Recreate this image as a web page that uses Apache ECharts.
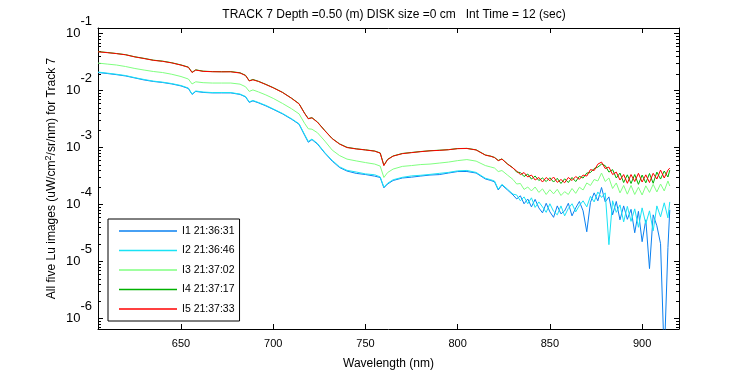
<!DOCTYPE html>
<html>
<head>
<meta charset="utf-8">
<script src="https://cdn.jsdelivr.net/npm/echarts@6/dist/echarts.min.js"></script>
<style>
  html, body { margin: 0; padding: 0; background: #fff; }
  #chart { width: 750px; height: 375px; }
</style>
</head>
<body>
<div id="chart"></div>
<script>
// wavelength grid (nm)
var wl = [605,610,615,620,625,630,635,640,645,650,654,656,658,662,667,672,677,682,685,687,689,692,696,700,705,710,714,717,719,721,724,728,732,736,740,745,750,755,758,760,762,765,770,775,780,785,790,795,800,805,810,815,818,820,822,824,827,830,
  832,834,836,838,840,842,844,846,848,850,852,854,856,858,860,862,864,866,868,870,872,874,876,878,880,882,884,886,888,890,892,894,896,898,900,902,904,906,908,910,912,914,915];

// I1 21:36:31
var i1 = [0.0208,0.0200,0.0191,0.0181,0.0167,0.0154,0.0145,0.0139,0.0131,0.0121,
  0.0109,0.00858,0.00969,0.00930,0.00912,0.00912,0.00912,0.00858,
  0.00776,0.00622,0.00661,0.00610,0.00540,0.00469,0.00391,0.00314,
  0.00257,0.00165,0.00124,0.00138,0.00115,7.98e-4,5.78e-4,4.45e-4,
  3.87e-4,3.52e-4,3.36e-4,3.15e-4,2.98e-4,1.96e-4,2.29e-4,2.64e-4,
  2.92e-4,3.02e-4,3.16e-4,3.29e-4,3.35e-4,3.57e-4,3.79e-4,3.80e-4,
  3.57e-4,2.81e-4,2.64e-4,2.50e-4,1.80e-4,2.20e-4,1.80e-4,1.47e-4,
  1.25e-4,1.42e-4,1.03e-4,1.25e-4,9.08e-5,1.23e-4,8.72e-5,7.13e-5,1.05e-4,7.42e-5,
  5.95e-5,9.45e-5,6.85e-5,7.73e-5,1.05e-4,6.32e-5,8.72e-5,1.13e-4,7.73e-5,3.32e-5,
  1.09e-4,1.60e-4,1.16e-4,1.99e-4,1.11e-4,1.36e-4,6.58e-5,1.13e-4,5.38e-5,9.45e-5,
  5.49e-5,8.21e-5,3.19e-5,7.58e-5,2.22e-5,5.38e-5,7.48e-6,6.58e-5,4.23e-5,2.05e-5,
  2.0e-7,1.75e-5,8.05e-5];

// I2 21:36:46
var i2 = [0.0212,0.0203,0.0194,0.0184,0.0169,0.0157,0.0147,0.0141,0.0133,0.0123,
  0.0111,0.00870,0.00985,0.00945,0.00925,0.00928,0.00925,0.00870,
  0.00790,0.00635,0.00672,0.00620,0.00550,0.00478,0.00398,0.00320,
  0.00262,0.00170,0.00128,0.00141,0.00118,8.15e-4,5.95e-4,4.58e-4,
  3.98e-4,3.72e-4,3.45e-4,3.33e-4,3.05e-4,2.02e-4,2.36e-4,2.72e-4,
  3.00e-4,3.18e-4,3.26e-4,3.38e-4,3.52e-4,3.66e-4,3.90e-4,3.96e-4,
  3.66e-4,2.89e-4,2.72e-4,2.58e-4,1.86e-4,2.26e-4,1.86e-4,1.52e-4,
  1.47e-4,1.16e-4,1.36e-4,1.03e-4,1.31e-4,8.90e-5,1.11e-4,9.08e-5,7.28e-5,1.03e-4,
  7.58e-5,6.58e-5,9.45e-5,6.32e-5,8.55e-5,1.03e-4,7.42e-5,9.64e-5,1.16e-4,9.08e-5,
  1.39e-4,1.11e-4,1.66e-4,1.33e-4,1.60e-4,1.97e-5,1.16e-4,7.28e-5,9.84e-5,4.96e-5,
  9.26e-5,5.06e-5,8.38e-5,3.98e-5,8.72e-5,4.58e-5,7.73e-5,3.45e-5,9.45e-5,6.07e-5,
  1.07e-4,5.83e-5,1.11e-4];

// I3 21:37:02
var i3 = [0.0305,0.0293,0.0282,0.0265,0.0245,0.0230,0.0217,0.0208,0.0194,0.0177,
  0.0160,0.0131,0.0143,0.0138,0.0136,0.0136,0.0136,0.0130,
  0.0117,0.00969,0.0103,0.00949,0.00841,0.00731,0.00597,0.00479,
  0.00391,0.00267,0.00214,0.00210,0.00182,0.00130,9.01e-4,7.22e-4,
  6.27e-4,5.83e-4,5.45e-4,5.13e-4,4.73e-4,2.98e-4,3.64e-4,4.19e-4,
  4.67e-4,4.83e-4,5.03e-4,5.13e-4,5.34e-4,5.56e-4,5.90e-4,6.15e-4,
  5.78e-4,4.83e-4,4.55e-4,4.37e-4,3.79e-4,3.95e-4,3.29e-4,2.75e-4,
  2.29e-4,2.34e-4,1.84e-4,2.03e-4,1.73e-4,2.03e-4,1.63e-4,1.88e-4,1.50e-4,1.82e-4,
  1.54e-4,1.85e-4,1.44e-4,1.68e-4,1.50e-4,1.91e-4,1.57e-4,2.01e-4,1.80e-4,2.39e-4,
  2.16e-4,2.75e-4,2.59e-4,3.57e-4,2.54e-4,2.92e-4,1.91e-4,2.39e-4,1.60e-4,2.16e-4,
  1.52e-4,2.16e-4,1.50e-4,2.01e-4,1.47e-4,2.13e-4,1.63e-4,2.26e-4,1.66e-4,2.29e-4,
  1.73e-4,2.59e-4,2.11e-4];

// I4 21:37:17
var i4 = [0.0485,0.0468,0.0449,0.0428,0.0393,0.0369,0.0343,0.0330,0.0309,0.0283,
  0.0259,0.0210,0.0232,0.0220,0.0216,0.0215,0.0216,0.0206,
  0.0186,0.0149,0.0157,0.0146,0.0129,0.0113,0.00935,0.00735,
  0.00590,0.00402,0.00324,0.00335,0.00281,0.00199,0.00144,0.00116,
  0.00101,9.52e-4,9.12e-4,8.70e-4,8.05e-4,4.88e-4,6.20e-4,7.12e-4,
  7.88e-4,8.20e-4,8.52e-4,8.80e-4,8.98e-4,9.20e-4,9.60e-4,9.68e-4,
  9.12e-4,7.42e-4,7.06e-4,6.71e-4,5.94e-4,6.32e-4,5.17e-4,4.40e-4,
  3.71e-4,3.64e-4,3.10e-4,3.43e-4,2.80e-4,3.16e-4,2.64e-4,2.92e-4,2.53e-4,2.95e-4,
  2.48e-4,2.88e-4,2.34e-4,2.83e-4,2.43e-4,2.98e-4,2.53e-4,3.12e-4,2.92e-4,3.57e-4,
  3.64e-4,4.28e-4,4.54e-4,5.12e-4,4.82e-4,3.71e-4,4.10e-4,2.92e-4,3.57e-4,2.43e-4,
  3.32e-4,2.34e-4,3.36e-4,2.26e-4,3.29e-4,2.40e-4,3.50e-4,2.36e-4,3.71e-4,2.80e-4,
  3.87e-4,3.04e-4,4.02e-4];

// I5 21:37:33
var i5 = [0.0481,0.0465,0.0447,0.0426,0.0391,0.0366,0.0341,0.0327,0.0307,0.0281,
  0.0257,0.0208,0.0230,0.0218,0.0215,0.0214,0.0214,0.0204,
  0.0184,0.0148,0.0155,0.0145,0.0128,0.0112,0.00930,0.00730,
  0.00585,0.00399,0.00320,0.00333,0.00278,0.00197,0.00143,0.00115,
  0.00100,9.45e-4,9.08e-4,8.65e-4,7.98e-4,4.83e-4,6.14e-4,7.07e-4,
  7.82e-4,8.14e-4,8.48e-4,8.76e-4,8.93e-4,9.15e-4,9.57e-4,9.64e-4,
  9.08e-4,7.36e-4,7.02e-4,6.66e-4,5.90e-4,6.27e-4,5.13e-4,4.36e-4,
  3.87e-4,3.36e-4,3.64e-4,3.04e-4,3.29e-4,2.69e-4,2.98e-4,2.48e-4,2.98e-4,2.61e-4,
  3.04e-4,2.45e-4,2.75e-4,2.41e-4,2.98e-4,2.64e-4,3.10e-4,2.77e-4,3.29e-4,3.16e-4,
  4.10e-4,3.95e-4,5.12e-4,5.55e-4,4.28e-4,4.54e-4,3.36e-4,3.71e-4,2.69e-4,3.36e-4,
  2.36e-4,3.36e-4,2.53e-4,3.53e-4,2.48e-4,3.32e-4,2.43e-4,3.53e-4,2.80e-4,4.02e-4,
  2.92e-4,4.02e-4,4.36e-4];

var names = ['I1 21:36:31', 'I2 21:36:46', 'I3 21:37:02', 'I4 21:37:17', 'I5 21:37:33'];
var colors = ['#0a80f0', '#19e3f5', '#80ff80', '#00b000', '#ff0000'];
var allSeries = [i1, i2, i3, i4, i5];

var xMin = 605, xMax = 920;
var yMin = 6.5e-7, yMax = 0.126;

// minor ticks at 2..9 x 10^k (matlab style log axis)
var minorTicks = [];
for (var k = -7; k <= -1; k++) {
  for (var m = 2; m <= 9; m++) {
    var v = m * Math.pow(10, k);
    if (v > yMin && v < yMax) minorTicks.push([xMin, v]);
  }
}

var font = 'Liberation Sans, Arial, Helvetica, sans-serif';

function pairs(arr) {
  var out = [];
  for (var i = 0; i < wl.length; i++) out.push([wl[i], arr[i]]);
  return out;
}

function powLabel(val) {
  var e = Math.log10(val);
  var r = Math.round(e);
  if (Math.abs(e - r) > 1e-6) return '';
  return '{b|10}{e|' + r + '}';
}

var series = [];
for (var s = 0; s < allSeries.length; s++) {
  series.push({
    name: names[s],
    type: 'line',
    data: pairs(allSeries[s]),
    symbol: 'none',
    lineStyle: { width: 1, color: colors[s] },
    itemStyle: { color: colors[s] },
    silent: true
  });
}
series.push({
  type: 'custom',
  data: minorTicks,
  silent: true,
  renderItem: function (params, api) {
    var p = api.coord([xMin, api.value(1)]);
    var q = api.coord([xMax, api.value(1)]);
    var y = Math.round(p[1]) + 0.5;
    return {
      type: 'group',
      children: [
        { type: 'line', shape: { x1: p[0], y1: y, x2: p[0] + 3, y2: y }, style: { stroke: '#000', lineWidth: 1 } },
        { type: 'line', shape: { x1: q[0] - 3, y1: y, x2: q[0], y2: y }, style: { stroke: '#000', lineWidth: 1 } }
      ]
    };
  }
});

var myChart = echarts.init(document.getElementById('chart'));
var option = {
  animation: false,
  backgroundColor: '#fff',
  textStyle: { fontFamily: font },
  title: {
    text: 'TRACK 7 Depth =0.50 (m) DISK size =0 cm   Int Time = 12 (sec)',
    left: 389,
    top: 4,
    textAlign: 'center',
    textStyle: { fontSize: 12, fontWeight: 'normal', color: '#000', fontFamily: font }
  },
  grid: { left: 98, right: 71, top: 28, bottom: 44 },
  legend: {
    data: names,
    orient: 'vertical',
    left: 108,
    top: 219,
    icon: 'rect',
    itemWidth: 58,
    itemHeight: 1.5,
    itemGap: 5.5,
    padding: [5, 5, 5, 11],
    borderColor: '#000',
    borderWidth: 1,
    borderRadius: 0,
    backgroundColor: '#fff',
    textStyle: { fontSize: 10.5, lineHeight: 14, color: '#000', fontFamily: font },
    selectedMode: false
  },
  xAxis: [{
    type: 'value',
    min: xMin,
    max: xMax,
    name: 'Wavelength (nm)',
    nameLocation: 'middle',
    nameGap: 29,
    nameTextStyle: { fontSize: 12, color: '#000', fontFamily: font },
    axisLine: { onZero: false, lineStyle: { color: '#000', width: 1 } },
    axisTick: { inside: true, length: 5, lineStyle: { color: '#000' } },
    axisLabel: {
      color: '#000', fontSize: 11, margin: 9, fontFamily: font,
      formatter: function (v) { return v % 50 === 0 ? String(v) : ''; }
    },
    splitLine: { show: false }
  }, {
    type: 'value',
    position: 'top',
    min: xMin,
    max: xMax,
    axisLine: { onZero: false, lineStyle: { color: '#000', width: 1 } },
    axisTick: { inside: true, length: 5, lineStyle: { color: '#000' } },
    axisLabel: { show: false },
    splitLine: { show: false }
  }],
  yAxis: [{
    type: 'log',
    logBase: 10,
    min: yMin,
    max: yMax,
    name: 'All five Lu images (uW/cm{sup|2}/sr/nm) for Track 7',
    nameLocation: 'middle',
    nameGap: 38,
    nameMoveOverlap: false,
    nameTextStyle: {
      fontSize: 12, color: '#000', fontFamily: font,
      rich: { sup: { fontSize: 9, color: '#000', fontFamily: font, padding: [0, 0, 7, 0] } }
    },
    axisLine: { onZero: false, lineStyle: { color: '#000', width: 1 } },
    axisTick: { inside: true, length: 5, lineStyle: { color: '#000' } },
    axisLabel: {
      margin: 6,
      formatter: powLabel,
      rich: {
        b: { fontSize: 13, color: '#000', fontFamily: font, lineHeight: 14 },
        e: { fontSize: 13, color: '#000', fontFamily: font, lineHeight: 14, padding: [0, 0, 24, 0] }
      }
    },
    splitLine: { show: false }
  }, {
    type: 'log',
    logBase: 10,
    position: 'right',
    min: yMin,
    max: yMax,
    axisLine: { onZero: false, lineStyle: { color: '#000', width: 1 } },
    axisTick: { inside: true, length: 5, lineStyle: { color: '#000' } },
    axisLabel: { show: false },
    splitLine: { show: false }
  }],
  series: series
};
myChart.setOption(option);
</script>
</body>
</html>
